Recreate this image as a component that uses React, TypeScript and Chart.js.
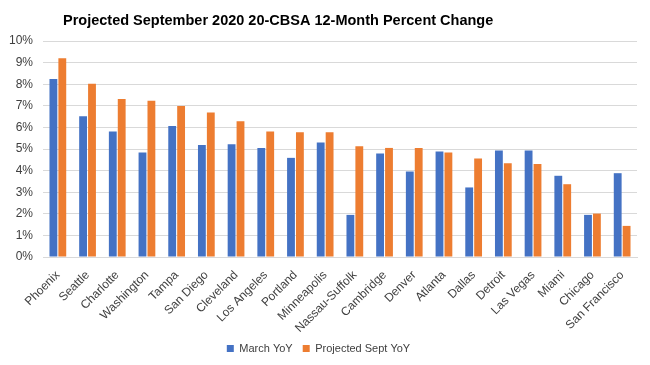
import React, { useEffect, useRef } from "react";
import { Chart, registerables } from "chart.js";

Chart.register(...registerables);

const TITLE = "Projected September 2020 20-CBSA 12-Month Percent Change";
const categories = [
  "Phoenix", "Seattle", "Charlotte", "Washington", "Tampa", "San Diego", "Cleveland",
  "Los Angeles", "Portland", "Minneapolis", "Nassau-Suffolk", "Cambridge", "Denver",
  "Atlanta", "Dallas", "Detroit", "Las Vegas", "Miami", "Chicago", "San Francisco",
];
const marchYoY = [8.24, 6.52, 5.81, 4.84, 6.06, 5.18, 5.22, 5.05, 4.59, 5.3, 1.95, 4.79, 3.96, 4.89, 3.22, 4.93, 4.93, 3.76, 1.95, 3.88];
const septYoY = [9.2, 8.02, 7.31, 7.23, 6.99, 6.69, 6.28, 5.81, 5.77, 5.77, 5.13, 5.05, 5.05, 4.84, 4.56, 4.34, 4.3, 3.37, 2.01, 1.44];
const seriesNames = ["March YoY", "Projected Sept YoY"];
const yMin = 0;
const yMax = 10;
const yStep = 1;

const FONT = '"Liberation Sans", Arial, sans-serif';

const titlePlugin = {
  id: "leftTitle",
  afterDraw(chart: any) {
    const ctx = chart.ctx;
    ctx.save();
    ctx.font = `bold 14.5px ${FONT}`;
    ctx.fillStyle = "#000000";
    ctx.textBaseline = "middle";
    ctx.textAlign = "left";
    ctx.fillText(TITLE, 63, 21);
    ctx.restore();
  },
};

export default function App() {
  const ref = useRef<HTMLCanvasElement | null>(null);
  useEffect(() => {
    document.body.style.margin = "0";
    const chart = new Chart(ref.current!, {
      type: "bar",
      data: {
        labels: categories,
        datasets: [
          {
            label: seriesNames[0],
            data: marchYoY,
            backgroundColor: "#4472C4",
            barPercentage: 0.88,
            categoryPercentage: 0.6,
          },
          {
            label: seriesNames[1],
            data: septYoY,
            backgroundColor: "#ED7D31",
            barPercentage: 0.88,
            categoryPercentage: 0.6,
          },
        ],
      },
      options: {
        animation: false,
        responsive: false,
        maintainAspectRatio: false,
        layout: { padding: { top: 41, left: 0, right: 13, bottom: 1 } },
        plugins: {
          title: { display: false },
          tooltip: { enabled: false },
          legend: {
            position: "bottom",
            labels: {
              boxWidth: 7,
              boxHeight: 7,
              padding: 10,
              color: "#404040",
              font: { family: FONT, size: 11 },
            },
          },
        },
        scales: {
          x: {
            grid: { display: false },
            border: { display: true, color: "#d9d9d9" },
            ticks: {
              color: "#404040",
              font: { family: FONT, size: 12 },
              maxRotation: 45,
              minRotation: 45,
              autoSkip: false,
              padding: 3,
            },
            afterFit(scale: any) {
              scale.height = 76;
            },
          },
          y: {
            min: yMin,
            max: yMax,
            grid: { color: "#d9d9d9", drawTicks: false },
            border: { display: false },
            ticks: {
              stepSize: yStep,
              color: "#404040",
              font: { family: FONT, size: 12 },
              padding: 10,
              callback: (v: any) => `${v}%`,
            },
            afterFit(scale: any) {
              scale.width = 43;
            },
          },
        },
      },
      plugins: [titlePlugin],
    });
    return () => chart.destroy();
  }, []);
  return (
    <div style={{ width: 650, height: 365, background: "#fff" }}>
      <canvas ref={ref} width={650} height={365} style={{ display: "block" }} />
    </div>
  );
}
